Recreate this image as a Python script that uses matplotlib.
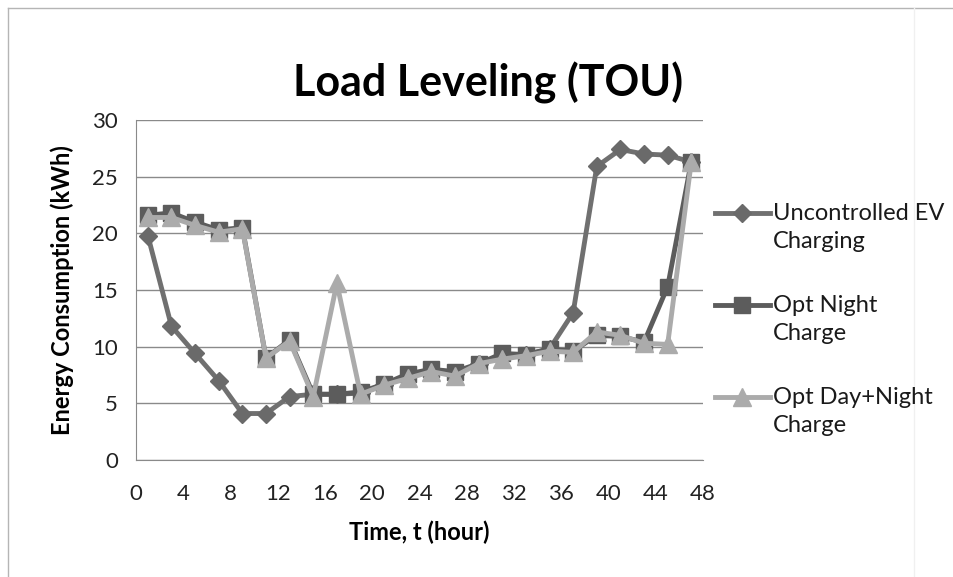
import matplotlib
matplotlib.use('Agg')
import matplotlib.pyplot as plt
from matplotlib.lines import Line2D

plt.rcParams['font.family'] = ['Lato', 'DejaVu Sans']

#hours (odd hours over two days)
hours = [1, 3, 5, 7, 9, 11, 13, 15, 17, 19, 21, 23, 25, 27, 29, 31, 33, 35, 37, 39, 41, 43, 45, 47]

#energy consumption for each case (kWh)
uncontrolled = [19.8, 11.8, 9.4, 7.0, 4.1, 4.1, 5.6, 5.8, 5.8, 5.9, 6.6, 7.4, 7.9, 7.6, 8.5, 9.2, 9.3, 9.8, 13.0, 25.9, 27.4, 27.0, 26.9, 26.3]
opt_night = [21.6, 21.8, 21.0, 20.3, 20.5, 9.0, 10.6, 5.8, 5.8, 6.0, 6.7, 7.6, 8.0, 7.8, 8.5, 9.4, 9.3, 9.8, 9.6, 11.0, 10.9, 10.4, 15.3, 26.3]
opt_day_night = [21.4, 21.4, 20.7, 20.1, 20.4, 9.0, 10.5, 5.6, 15.6, 5.8, 6.6, 7.2, 7.8, 7.4, 8.5, 8.9, 9.2, 9.6, 9.5, 11.3, 11.0, 10.3, 10.2, 26.3]

labels = ['Uncontrolled EV\nCharging', 'Opt Night\nCharge', 'Opt Day+Night\nCharge']

fig = plt.figure(figsize=(9.54, 5.77), dpi=100)
ax = fig.add_axes([0.1426, 0.2028, 0.5944, 0.5892])

#outer chart border (only top and left show in the picture)
fig.add_artist(Line2D([0.008, 1.0], [0.987, 0.987], transform=fig.transFigure, color='#b5b5b5', linewidth=1))
fig.add_artist(Line2D([0.008, 0.008], [0.0, 0.987], transform=fig.transFigure, color='#b5b5b5', linewidth=1))
fig.add_artist(Line2D([0.958, 0.958], [0.0, 0.987], transform=fig.transFigure, color='#f0f0f0', linewidth=1))

styles = [
    dict(color='#707070', marker='D', markersize=9, mfc='#6a6a6a', mec='#6a6a6a'),
    dict(color='#5c5c5c', marker='s', markersize=11, mfc='#5c5c5c', mec='#5c5c5c'),
    dict(color='#ababab', marker='^', markersize=13, mfc='#ababab', mec='#ababab'),
]
series = [uncontrolled, opt_night, opt_day_night]

for i in range(3):
    st = styles[i]
    ax.plot(hours, series[i], color=st['color'], linewidth=3.5, marker=st['marker'],
            markersize=st['markersize'], markerfacecolor=st['mfc'], markeredgecolor=st['mec'],
            zorder=3 + i)

ax.set_xlim(0, 48)
ax.set_ylim(0, 30)
ax.set_xticks(range(0, 49, 4))
ax.set_yticks(range(0, 31, 5))
ax.tick_params(axis='both', labelsize=16, length=0, colors='#222222')
ax.tick_params(axis='x', pad=17)
ax.tick_params(axis='y', pad=13)
ax.yaxis.grid(True, color='#8a8a8a', linewidth=1)
ax.set_axisbelow(True)
for s in ['top', 'right']:
    ax.spines[s].set_visible(False)
ax.spines['left'].set_color('#8a8a8a')
ax.spines['bottom'].set_color('#8a8a8a')

ax.set_xlabel('Time, t (hour)', fontsize=17, fontweight='bold', labelpad=12)
ax.set_ylabel('Energy Consumption (kWh)', fontsize=17, fontweight='bold', labelpad=13)
fig.text(0.5115, 0.857, 'Load Leveling (TOU)', fontsize=31, fontweight='bold', ha='center', va='center')

#legend drawn by hand so the marker sits on the first text line
leg_rows = [213, 305, 397]
for i in range(3):
    st = styles[i]
    yy = 1 - leg_rows[i] / 577
    fig.add_artist(Line2D([0.7495, 0.807], [yy, yy], transform=fig.transFigure, color=st['color'],
                          linewidth=3.5))
    fig.add_artist(Line2D([0.778], [yy], transform=fig.transFigure, marker=st['marker'],
                          markersize=st['markersize'], markerfacecolor=st['mfc'], markeredgecolor=st['mec'],
                          linestyle='none'))
    fig.text(0.810, yy + 0.017, labels[i], fontsize=17, ha='left', va='top', linespacing=1.4,
             color='#1a1a1a')

fig.savefig('out.png', dpi=100)
